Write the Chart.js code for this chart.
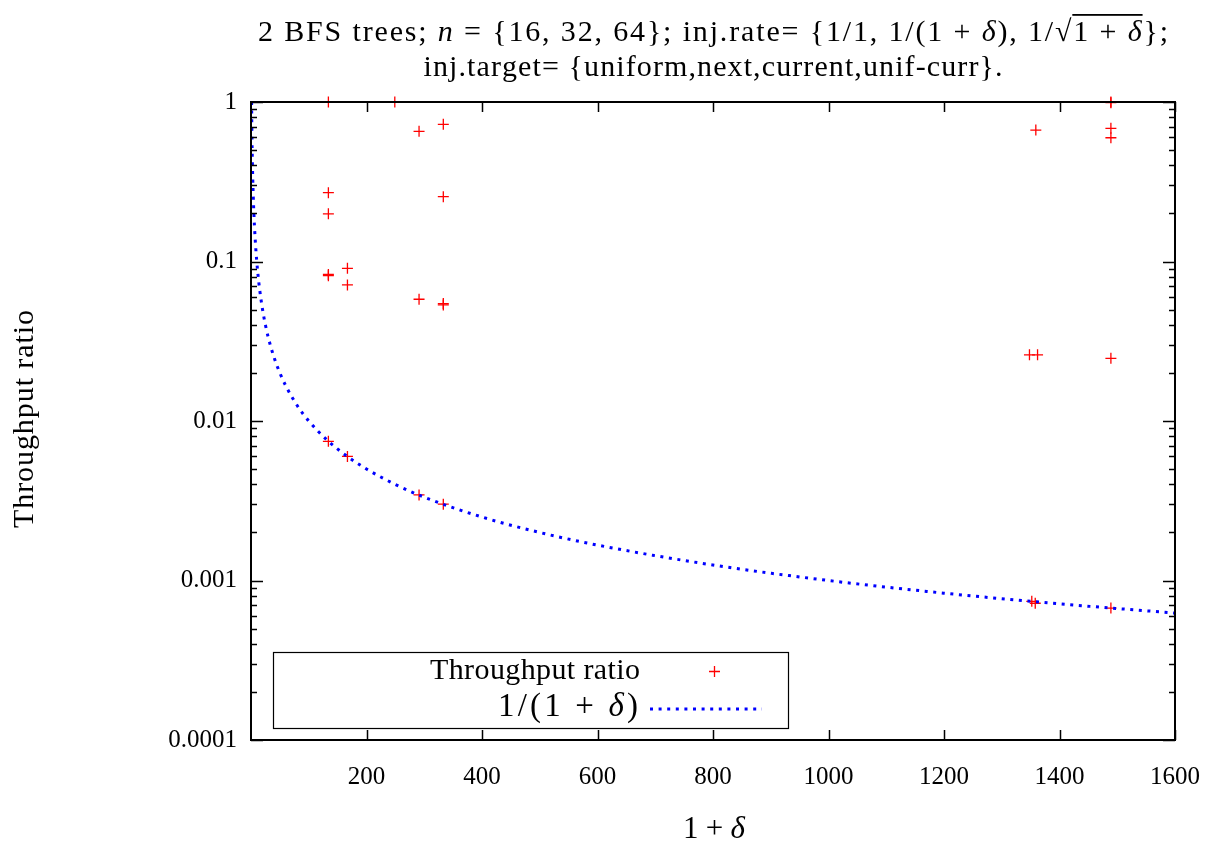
<!DOCTYPE html>
<html>
<head>
<meta charset="utf-8">
<script src="https://cdn.jsdelivr.net/npm/chart.js@4.4.0/dist/chart.umd.min.js"></script>
<style>
  html, body { margin: 0; padding: 0; background: #fff; }
</style>
</head>
<body>
<canvas id="chart" width="1217" height="850"></canvas>
<script>
// measured throughput ratios, x = 1 + delta
const ratioX = [134, 249, 291, 333, 134, 333, 134, 167, 134, 134, 167, 291, 333, 333,
  134, 167, 291, 333, 1359, 1489, 1489, 1489, 1489, 1348, 1362, 1489, 1352, 1358, 1489];
const ratioY = [1, 1, 0.655, 0.725, 0.27, 0.255, 0.199, 0.0906, 0.0815, 0.083, 0.0713, 0.058, 0.0534, 0.0545,
  0.00746, 0.0060, 0.00344, 0.00301, 0.667, 0.99, 1.0, 0.684, 0.597, 0.026, 0.026, 0.0247, 0.00074, 0.00072, 0.000672];

// reference curve 1/(1+delta), sampled
const curveX = [1, 1.5, 2, 3, 4, 5, 6, 8, 10, 12, 15, 20, 25, 30, 40, 50, 60, 80, 100, 130, 160, 200,
  250, 300, 400, 500, 600, 800, 1000, 1200, 1400, 1600];
const curveY = [1, 0.667, 0.5, 0.333, 0.25, 0.2, 0.1667, 0.125, 0.1, 0.0833, 0.0667, 0.05, 0.04, 0.0333,
  0.025, 0.02, 0.01667, 0.0125, 0.01, 0.00769, 0.00625, 0.005, 0.004, 0.00333, 0.0025, 0.002, 0.001667,
  0.00125, 0.001, 0.000833, 0.000714, 0.000625];

const yTickValues = [1, 0.1, 0.01, 0.001, 0.0001];
const yTickLabels = ["1", "0.1", "0.01", "0.001", "0.0001"];
const xTickValues = [200, 400, 600, 800, 1000, 1200, 1400, 1600];
const seriesNames = ["Throughput ratio", "1/(1 + \u03b4)"];

const SERIF = "'Liberation Serif', 'DejaVu Serif', serif";
const RED = "#ff0000";
const BLUE = "#0000ff";
const DOTS = [3, 5.6];

// draws text made of parts [text, italic, overline], stretched to a target width
function drawRich(ctx, parts, x, y, size, target, align, baseline, spaceOnly) {
  const chars = [];
  parts.forEach(p => {
    for (const ch of p[0]) chars.push({ ch: ch, it: !!p[1], ov: !!p[2] });
  });
  let natural = 0;
  chars.forEach(c => {
    ctx.font = (c.it ? "italic " : "") + size + "px " + SERIF;
    c.w = ctx.measureText(c.ch).width;
    natural += c.w;
  });
  const slots = spaceOnly ? chars.filter(c => c.ch === " ").length : chars.length - 1;
  const extra = target ? (target - natural) / Math.max(slots, 1) : 0;
  const total = target || natural;
  let cx = align === "right" ? x - total : align === "left" ? x : x - total / 2;
  ctx.textAlign = "left";
  ctx.textBaseline = baseline || "alphabetic";
  let ovStart = null;
  chars.forEach((c, i) => {
    ctx.font = (c.it ? "italic " : "") + size + "px " + SERIF;
    ctx.fillText(c.ch, cx, y);
    if (c.ov && ovStart === null) ovStart = cx;
    if (c.ov && (i === chars.length - 1 || !chars[i + 1].ov)) {
      ctx.fillRect(ovStart - 1, y - size * 0.9, cx + c.w - ovStart + 2, 1.8);
      ovStart = null;
    }
    cx += c.w;
    if (!spaceOnly || c.ch === " ") cx += extra;
  });
}

const decorations = {
  id: "decorations",
  afterDraw(chart) {
    const ctx = chart.ctx;
    const xs = chart.scales.x, ys = chart.scales.y;
    const a = chart.chartArea;
    ctx.save();
    ctx.fillStyle = "#000";
    ctx.strokeStyle = "#000";

    // ticks, inward on all sides
    ctx.lineWidth = 1.5;
    ctx.beginPath();
    xTickValues.forEach(v => {
      const px = Math.round(xs.getPixelForValue(v)) + 0.5;
      ctx.moveTo(px, a.bottom); ctx.lineTo(px, a.bottom - 10);
      ctx.moveTo(px, a.top); ctx.lineTo(px, a.top + 10);
    });
    for (let k = -4; k <= 0; k++) {
      for (let m = 1; m <= 9; m++) {
        const v = m * Math.pow(10, k);
        if (v > 1.0001) break;
        const py = Math.round(ys.getPixelForValue(v)) + 0.5;
        const len = m === 1 ? 12 : 6;
        ctx.moveTo(a.left, py); ctx.lineTo(a.left + len, py);
        ctx.moveTo(a.right, py); ctx.lineTo(a.right - len, py);
      }
    }
    ctx.stroke();

    // frame
    ctx.lineWidth = 2;
    ctx.strokeRect(a.left, a.top, a.right - a.left, a.bottom - a.top);

    // main title
    const cx = 713;
    drawRich(ctx, [
      ["2 BFS trees; ", false], ["n", true], [" = {16, 32, 64}; inj.rate= {1/1, 1/(1 + ", false],
      ["\u03b4", true], ["), 1/\u221a", false], ["1 + ", false, true], ["\u03b4", true, true], ["};", false]
    ], cx, 41, 30, 910);
    drawRich(ctx, [["inj.target= {uniform,next,current,unif-curr}.", false]], cx, 76, 30, 579);

    // axis titles
    drawRich(ctx, [["1 + ", false], ["\u03b4", true]], 714, 830, 31, 62, "center", "middle", true);
    ctx.save();
    ctx.translate(25, 419);
    ctx.rotate(-Math.PI / 2);
    drawRich(ctx, [["Throughput ratio", false]], 0, 0, 30, 218, "center", "middle");
    ctx.restore();

    // legend
    const bx = 273, by = 652, bw = 515, bh = 76;
    ctx.lineWidth = 1.2;
    ctx.strokeRect(bx + 0.5, by + 0.5, bw, bh);
    drawRich(ctx, [[seriesNames[0], false]], 640, 671, 30, 210, "right", "middle");
    drawRich(ctx, [["1/(1 + ", false], ["\u03b4", true], [")", false]], 638, 707, 33, 140, "right", "middle");

    ctx.strokeStyle = RED;
    ctx.lineWidth = 1.3;
    ctx.beginPath();
    ctx.moveTo(709, 671.5); ctx.lineTo(720, 671.5);
    ctx.moveTo(714.5, 666); ctx.lineTo(714.5, 677);
    ctx.stroke();

    ctx.strokeStyle = BLUE;
    ctx.lineWidth = 3;
    ctx.setLineDash(DOTS);
    ctx.beginPath();
    ctx.moveTo(650, 709); ctx.lineTo(762, 709);
    ctx.stroke();
    ctx.restore();
  }
};

const ctx = document.getElementById("chart").getContext("2d");

new Chart(ctx, {
  type: "scatter",
  data: {
    datasets: [
      {
        label: seriesNames[1],
        type: "line",
        data: curveX.map((x, i) => ({ x: x, y: curveY[i] })),
        borderColor: BLUE,
        borderWidth: 3,
        borderDash: DOTS,
        pointRadius: 0,
        fill: false,
        cubicInterpolationMode: "monotone",
      },
      {
        label: seriesNames[0],
        data: ratioX.map((x, i) => ({ x: x, y: ratioY[i] })),
        pointStyle: "cross",
        pointRadius: 5.5,
        borderColor: RED,
        backgroundColor: RED,
        borderWidth: 1.3,
        clip: false,
      },
    ],
  },
  options: {
    responsive: false,
    animation: false,
    layout: { padding: { top: 102, right: 42, left: 0, bottom: 0 } },
    plugins: {
      legend: { display: false },
      title: { display: false },
      tooltip: { enabled: false },
    },
    scales: {
      x: {
        type: "linear",
        min: 0,
        max: 1600,
        afterFit: s => { s.height = 110; s.paddingLeft = 0; s.paddingRight = 0; },
        grid: { display: false, drawTicks: false },
        border: { display: false },
        ticks: {
          stepSize: 200,
          padding: 22,
          autoSkip: false,
          maxRotation: 0,
          color: "#000",
          font: { family: SERIF, size: 25 },
          callback: v => (xTickValues.includes(v) ? String(v) : ""),
        },
      },
      y: {
        type: "logarithmic",
        min: 0.0001,
        max: 1,
        afterFit: s => { s.width = 251; s.paddingTop = 0; s.paddingBottom = 0; },
        grid: { display: false, drawTicks: false },
        border: { display: false },
        ticks: {
          padding: 14,
          autoSkip: false,
          color: "#000",
          font: { family: SERIF, size: 25 },
          callback: v => {
            const i = yTickValues.findIndex(t => Math.abs(v - t) / t < 1e-6);
            return i >= 0 ? yTickLabels[i] : "";
          },
        },
      },
    },
  },
  plugins: [decorations],
});
</script>
</body>
</html>
